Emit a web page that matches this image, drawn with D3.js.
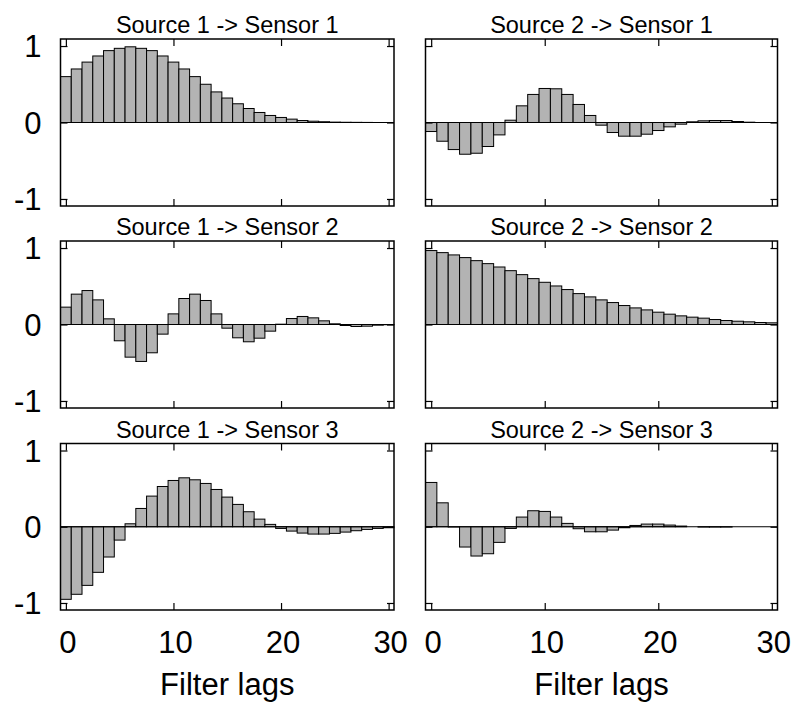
<!DOCTYPE html>
<html>
<head>
<meta charset="utf-8">
<script src="https://cdn.jsdelivr.net/npm/d3@7"></script>
<style>
  body { margin:0; background:#fff; }
  svg text { font-family: "Liberation Sans", Arial, Helvetica, sans-serif; fill:#000; }
  .axis path { display:none; }
  .axis line { stroke:#000; stroke-width:1.2; }
</style>
</head>
<body>
<svg id="chart" width="798" height="711"></svg>
<script>
// filter lags (x categories)
const lags = [0,1,2,3,4,5,6,7,8,9,10,11,12,13,14,15,16,17,18,19,20,21,22,23,24,25,26,27,28,29,30];

// filter coefficients
const src1Sensor1 = [0.60,0.70,0.79,0.87,0.94,0.97,0.99,0.97,0.94,0.87,0.79,0.70,0.60,0.50,0.40,0.32,0.245,0.183,0.131,0.092,0.066,0.044,0.026,0.017,0.010,0.005,0.003,0.002,0.001,0,0];
const src2Sensor1 = [-0.118,-0.245,-0.354,-0.415,-0.402,-0.314,-0.162,0.03,0.218,0.367,0.445,0.441,0.367,0.236,0.092,-0.035,-0.131,-0.179,-0.179,-0.153,-0.105,-0.057,-0.022,0.009,0.022,0.026,0.026,0.013,0.004,0,0];
const src1Sensor2 = [0.227,0.397,0.444,0.322,0.074,-0.213,-0.427,-0.483,-0.370,-0.126,0.139,0.340,0.397,0.314,0.139,-0.048,-0.174,-0.226,-0.179,-0.087,0.004,0.078,0.105,0.087,0.048,0.009,-0.013,-0.026,-0.022,-0.009,-0.003];
const src2Sensor2 = [0.967,0.940,0.910,0.875,0.835,0.796,0.752,0.704,0.652,0.600,0.552,0.504,0.457,0.404,0.361,0.322,0.287,0.248,0.217,0.191,0.161,0.135,0.113,0.096,0.083,0.065,0.052,0.043,0.035,0.026,0.022];
const src1Sensor3 = [-0.952,-0.886,-0.769,-0.598,-0.397,-0.175,0.039,0.240,0.402,0.528,0.607,0.642,0.616,0.568,0.489,0.389,0.293,0.197,0.100,0.031,-0.022,-0.057,-0.083,-0.096,-0.096,-0.087,-0.070,-0.052,-0.035,-0.022,-0.013];
const src2Sensor3 = [0.581,0.314,-0.004,-0.266,-0.384,-0.354,-0.205,-0.022,0.127,0.210,0.201,0.127,0.044,-0.026,-0.066,-0.066,-0.044,-0.013,0.017,0.035,0.035,0.022,0.009,0,-0.004,-0.004,-0.004,0,0,0,0];

const panelTitles = [
  ["Source 1 -> Sensor 1", "Source 2 -> Sensor 1"],
  ["Source 1 -> Sensor 2", "Source 2 -> Sensor 2"],
  ["Source 1 -> Sensor 3", "Source 2 -> Sensor 3"]
];
const panelValues = [
  [src1Sensor1, src2Sensor1],
  [src1Sensor2, src2Sensor2],
  [src1Sensor3, src2Sensor3]
];
const xTicks = [0, 10, 20, 30];
const yTicks = [-1, 0, 1];
const xLabel = "Filter lags";

// layout
const colX = [[60.5, 394], [425.5, 777.5]];
const rowY = [[39, 206], [241, 408], [443.5, 610]];
const tickLen = 7;
const fontTick = 31;

const svg = d3.select("#chart");

function lagPanel() {
    let xScale = d3.scaleLinear().domain([-0.5, 30.5]);
    let yScale = d3.scaleLinear().domain([-1.092, 1.092]);
    let showX = false, showY = false, title = "";

    function panel(g, values) {
        const x0 = xScale.range()[0], x1 = xScale.range()[1];
        const y0 = yScale.range()[1], y1 = yScale.range()[0];
        const bw = xScale(1) - xScale(0);

        g.selectAll("rect.bar")
            .data(lags)
            .enter().append("rect")
            .attr("class", "bar")
            .attr("x", d => xScale(d - 0.5))
            .attr("width", bw)
            .attr("y", (d, i) => yScale(Math.max(0, values[i])))
            .attr("height", (d, i) => Math.abs(yScale(values[i]) - yScale(0)))
            .attr("fill", "#b3b3b3")
            .attr("stroke", "#000")
            .attr("stroke-width", 1);

        // zero line
        g.append("line")
            .attr("x1", x0).attr("x2", x1)
            .attr("y1", yScale(0)).attr("y2", yScale(0))
            .attr("stroke", "#000").attr("stroke-width", 1.2);

        // inward ticks on all four sides
        g.append("g").attr("class", "axis")
            .attr("transform", "translate(0," + y1 + ")")
            .call(d3.axisBottom(xScale).tickValues(xTicks).tickSize(-tickLen).tickFormat(""));
        g.append("g").attr("class", "axis")
            .attr("transform", "translate(0," + y0 + ")")
            .call(d3.axisTop(xScale).tickValues(xTicks).tickSize(-tickLen).tickFormat(""));
        g.append("g").attr("class", "axis")
            .attr("transform", "translate(" + x0 + ",0)")
            .call(d3.axisLeft(yScale).tickValues(yTicks).tickSize(-tickLen).tickFormat(""));
        g.append("g").attr("class", "axis")
            .attr("transform", "translate(" + x1 + ",0)")
            .call(d3.axisRight(yScale).tickValues(yTicks).tickSize(-tickLen).tickFormat(""));

        // frame
        g.append("rect")
            .attr("x", x0).attr("y", y0)
            .attr("width", x1 - x0).attr("height", y1 - y0)
            .attr("fill", "none").attr("stroke", "#000").attr("stroke-width", 1.5);

        g.append("text")
            .attr("x", (x0 + x1) / 2).attr("y", y0 - 6)
            .attr("text-anchor", "middle")
            .style("font-size", "23.5px")
            .text(title);

        if (showX) {
            g.selectAll("text.xlab")
                .data(xTicks)
                .enter().append("text")
                .attr("class", "xlab")
                .attr("x", d => xScale(d) + 2)
                .attr("y", y1 + 43)
                .attr("text-anchor", "middle")
                .style("font-size", fontTick + "px")
                .text(d => d);
            g.append("text")
                .attr("x", (x0 + x1) / 2).attr("y", y1 + 85)
                .attr("text-anchor", "middle")
                .style("font-size", fontTick + "px")
                .text(xLabel);
        }
        if (showY) {
            g.selectAll("text.ylab")
                .data(yTicks)
                .enter().append("text")
                .attr("class", "ylab")
                .attr("x", x0 - 19)
                .attr("y", d => yScale(d))
                .attr("dy", "0.36em")
                .attr("text-anchor", "end")
                .style("font-size", fontTick + "px")
                .text(d => d);
        }
    }

    panel.xRange = (d) => { xScale.range(d); return panel; };
    panel.yRange = (d) => { yScale.range(d); return panel; };
    panel.showX = (d) => { showX = d; return panel; };
    panel.showY = (d) => { showY = d; return panel; };
    panel.title = (d) => { title = d; return panel; };
    return panel;
}

rowY.forEach((ry, r) => {
    colX.forEach((cx, c) => {
        const p = lagPanel()
            .xRange(cx)
            .yRange([ry[1], ry[0]])
            .showX(r === rowY.length - 1)
            .showY(c === 0)
            .title(panelTitles[r][c]);
        p(svg.append("g"), panelValues[r][c]);
    });
});
</script>
</body>
</html>
